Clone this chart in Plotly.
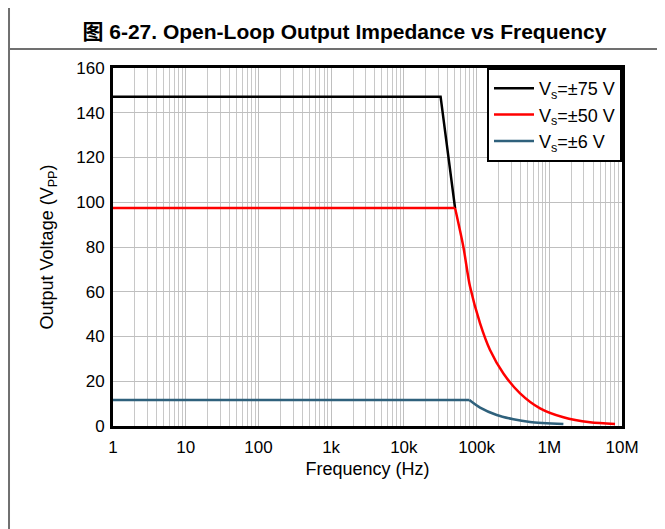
import plotly.graph_objects as go

# values
freq_75 = [1, 32000, 50600]
vout_75 = [147.2, 147.2, 97.4]

freq_50 = [1, 50600, 65800, 81300, 111700, 153100, 233900, 396300, 746500, 1563000, 3631000, 8017000]
vout_50 = [97.4, 97.4, 80.1, 62.3, 45.9, 34.0, 23.5, 14.6, 7.9, 3.9, 1.65, 0.9]

freq_6 = [1, 79600, 111700, 189200, 320600, 543300, 1563000]
vout_6 = [11.6, 11.6, 8.2, 4.9, 3.0, 1.8, 0.9]

x_tickvals = [1, 10, 100, 1e3, 1e4, 1e5, 1e6, 1e7]
x_ticktext = ["1", "10", "100", "1k", "10k", "100k", "1M", "10M"]

FONT = "Liberation Sans, Arial, Noto Sans CJK SC, sans-serif"


def add_curve(fig, f, v, name, color):
    # flat part straight, roll-off part smoothed; knee stays sharp
    fig.add_trace(go.Scatter(x=f[:2], y=v[:2], mode="lines", name=name, legendgroup=name,
                             line=dict(color=color, width=2.5)))
    fig.add_trace(go.Scatter(x=f[1:], y=v[1:], mode="lines", name=name, legendgroup=name,
                             showlegend=False,
                             line=dict(color=color, width=2.5, shape="spline", smoothing=0.8)))


fig = go.Figure()
fig.add_trace(go.Scatter(x=freq_75, y=vout_75, mode="lines", name="V<sub>s</sub>=±75 V",
                         line=dict(color="#000000", width=2.5)))
add_curve(fig, freq_50, vout_50, "V<sub>s</sub>=±50 V", "#ff0000")
add_curve(fig, freq_6, vout_6, "V<sub>s</sub>=±6 V", "#2f617c")

# page body has an 8px margin, so the figure is 8px smaller than the window
fig.update_layout(
    width=657, height=521,
    margin=dict(l=105, r=43, t=60, b=103),
    paper_bgcolor="white", plot_bgcolor="white",
    font=dict(family=FONT, size=17, color="#000000"),
    title=dict(text="<b>图 6-27. Open-Loop Output Impedance vs Frequency</b>",
               x=0.512, xanchor="center", y=0.955, yanchor="middle",
               font=dict(size=21, family=FONT)),
    xaxis=dict(type="log", range=[0, 7], tickvals=x_tickvals, ticktext=x_ticktext,
               showgrid=True, gridcolor="#bfbfbf", gridwidth=1,
               minor=dict(showgrid=True, gridcolor="#c8c8c8", gridwidth=1, dtick="D1"),
               showline=True, linecolor="#000000", linewidth=3, mirror=True,
               ticks="", zeroline=False, ticklabelstandoff=4,
               title=dict(text="Frequency (Hz)", standoff=6, font=dict(size=18))),
    yaxis=dict(range=[0, 160], dtick=20,
               showgrid=True, gridcolor="#bfbfbf", gridwidth=1,
               showline=True, linecolor="#000000", linewidth=3, mirror=True,
               ticks="", zeroline=False, ticklabelstandoff=2,
               title=dict(text="Output Voltage (V<sub>PP</sub>)", standoff=18, font=dict(size=18))),
    legend=dict(x=1, xanchor="right", y=1, yanchor="top",
                bgcolor="white", bordercolor="#000000", borderwidth=2,
                font=dict(size=18), tracegroupgap=0, itemwidth=40),
    shapes=[
        dict(type="line", xref="paper", yref="paper", x0=-0.2043, x1=-0.2043, y0=-0.3, y1=1.2,
             line=dict(color="#707070", width=2)),
        dict(type="line", xref="paper", yref="paper", x0=-0.2043, x1=1.1, y0=1.0531, y1=1.0531,
             line=dict(color="#707070", width=2)),
    ],
)

fig.write_html("out.html")
